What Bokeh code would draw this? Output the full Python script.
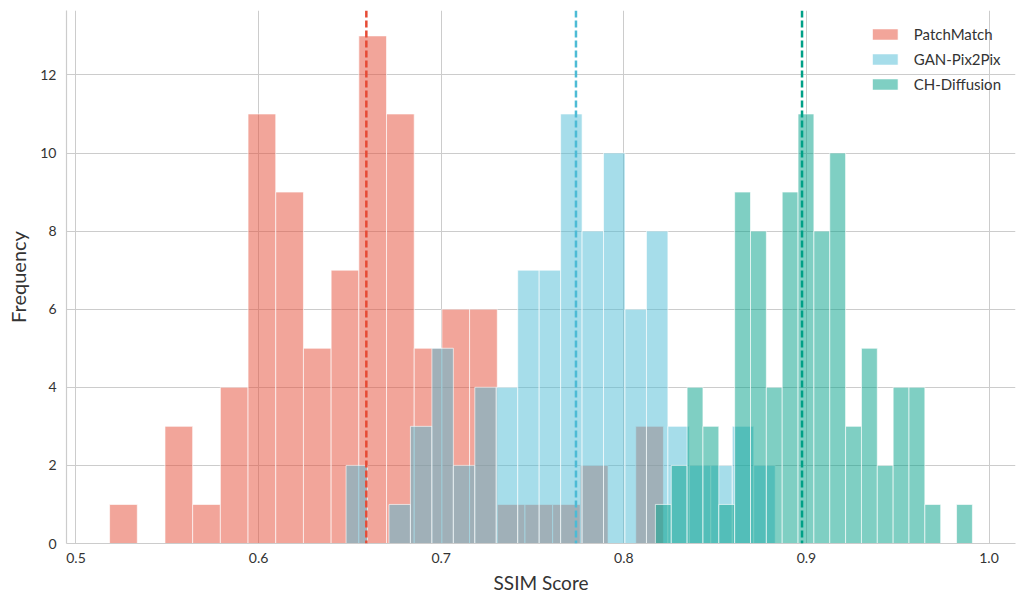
import numpy as np
from bokeh.plotting import figure
from bokeh.models import Span, Legend, LegendItem, Range1d, ColumnDataSource, PrintfTickFormatter
from bokeh.embed import file_html
from bokeh.resources import INLINE

# ---- data ----
methods = ["PatchMatch", "GAN-Pix2Pix", "CH-Diffusion"]
colors = ["#E64B35", "#4DBBD5", "#00A087"]

patchmatch_counts = [1, 0, 3, 1, 4, 11, 9, 5, 7, 13, 11, 5, 6, 6, 1, 1, 1, 2, 0, 3]
gan_counts = [2, 0, 1, 3, 5, 2, 4, 4, 7, 7, 11, 8, 10, 6, 8, 3, 2, 2, 3, 2]
diffusion_counts = [1, 2, 4, 3, 1, 9, 8, 4, 9, 11, 8, 10, 3, 5, 2, 4, 4, 1, 0, 1]

# data range (min, max) of each method's scores -> 20 equal bins each
patchmatch_range = (0.5184, 0.8217)
gan_range = (0.6479, 0.8829)
diffusion_range = (0.8173, 0.9909)

means = [0.659, 0.7738, 0.8976]

x_ticks = [0.5, 0.6, 0.7, 0.8, 0.9, 1.0]
y_ticks = [0, 2, 4, 6, 8, 10, 12]

FONT = "Lato"
TEXT = "#333333"

p = figure(width=1023, height=596, output_backend="svg", toolbar_location=None,
           x_range=Range1d(0.4948, 1.0145), y_range=Range1d(0, 13.65),
           min_border_left=66, min_border_right=8, min_border_top=10, min_border_bottom=53)
p.outline_line_color = None
p.background_fill_color = "white"

items = []
for name, col, counts, rng in zip(methods, colors,
                                  [patchmatch_counts, gan_counts, diffusion_counts],
                                  [patchmatch_range, gan_range, diffusion_range]):
    edges = np.linspace(rng[0], rng[1], len(counts) + 1)
    src = ColumnDataSource(dict(left=edges[:-1], right=edges[1:],
                                top=counts, bottom=[0] * len(counts)))
    r = p.quad(left="left", right="right", top="top", bottom="bottom", source=src,
               fill_color=col, fill_alpha=0.5, line_color="white", line_width=0.8,
               line_alpha=0.8)
    items.append(LegendItem(label=name, renderers=[r]))

for m, col in zip(means, colors):
    p.add_layout(Span(location=m, dimension="height", line_color=col,
                      line_width=2.5, line_dash="7 3"))

legend = Legend(items=items, location="top_right")
legend.background_fill_alpha = 0
legend.border_line_alpha = 0
legend.label_text_font = FONT
legend.label_text_font_size = "15px"
legend.label_text_color = TEXT
legend.glyph_width = 32
legend.glyph_height = 14
legend.label_height = 20
legend.spacing = 5
legend.padding = 6
legend.margin = 8
legend.label_standoff = 13
p.add_layout(legend)

p.xaxis.ticker = x_ticks
p.yaxis.ticker = y_ticks
p.xaxis.formatter = PrintfTickFormatter(format="%.1f")
p.xaxis.axis_label = "SSIM Score"
p.yaxis.axis_label = "Frequency"
for ax in (p.xaxis, p.yaxis):
    ax.axis_label_text_font = FONT
    ax.axis_label_text_font_size = "19px"
    ax.axis_label_text_font_style = "normal"
    ax.axis_label_text_color = TEXT
    ax.major_label_text_font = FONT
    ax.major_label_text_font_size = "14px"
    ax.major_label_text_color = TEXT
    ax.axis_line_color = "#cccccc"
    ax.axis_line_width = 1.2
    ax.major_tick_line_color = None
    ax.minor_tick_line_color = None
p.xaxis.major_label_standoff = 3
p.xaxis.axis_label_standoff = 5
p.yaxis.major_label_standoff = 4
p.yaxis.axis_label_standoff = 7
p.yaxis.axis_label_text_font_size = "20px"

p.xgrid.grid_line_color = "#cccccc"
p.ygrid.grid_line_color = "#cccccc"
p.xgrid.grid_line_width = 1
p.ygrid.grid_line_width = 1

open("out.html", "w").write(file_html(p, INLINE))
